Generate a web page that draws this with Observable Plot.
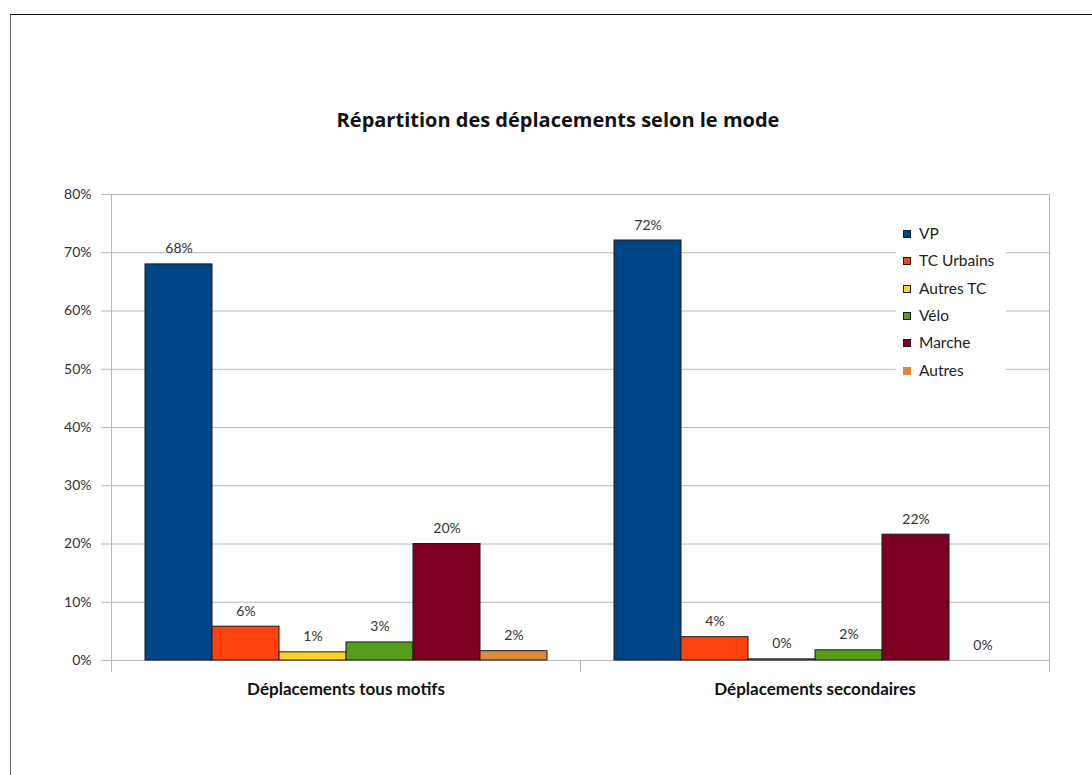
<!DOCTYPE html>
<html>
<head>
<meta charset="utf-8">
<script src="https://cdn.jsdelivr.net/npm/d3@7"></script>
<script src="https://cdn.jsdelivr.net/npm/@observablehq/plot@0.6"></script>
<style>
  html, body { margin: 0; padding: 0; background: #fff; }
  #wrap { position: relative; width: 1092px; height: 775px; overflow: hidden; font-family: Lato, "Open Sans", sans-serif; }
  #border { position: absolute; left: 10px; top: 14px; width: 1200px; height: 900px;
            border-top: 1.5px solid #111; border-left: 1.5px solid #666; box-sizing: border-box; }
  #title { position: absolute; left: 0; width: 1116px; top: 106px; text-align: center;
           font-family: "Open Sans", Lato, sans-serif; font-weight: bold; font-size: 20px; line-height: 28px; color: #111; }
  #chart { position: absolute; left: 0; top: 150px; }
  #legend { position: absolute; left: 896px; top: 216px; width: 110px; height: 172px; background: #fff; }
  .item { position: absolute; left: 7px; font-size: 15.5px; color: #222; white-space: nowrap; line-height: 18px; }
  .sw { display: inline-block; width: 8px; height: 8px; box-sizing: border-box; margin-right: 8px; vertical-align: 1px; }
</style>
</head>
<body>
<div id="wrap">
  <div id="border"></div>
  <div id="title">Répartition des déplacements selon le mode</div>
  <div id="chart"></div>
  <div id="legend"></div>
</div>
<script>
const groups = ["Déplacements tous motifs", "Déplacements secondaires"];
const modes = ["VP", "TC Urbains", "Autres TC", "Vélo", "Marche", "Autres"];
const colors = ["#004586", "#ff420e", "#ffd320", "#579d1c", "#7e0021", "#dd8a3e"];
const valuesTousMotifs = [0.680, 0.058, 0.014, 0.031, 0.200, 0.016];
const valuesSecondaires = [0.721, 0.040, 0.002, 0.0175, 0.216, 0];
const yTicks = [0, 0.1, 0.2, 0.3, 0.4, 0.5, 0.6, 0.7, 0.8];

const data = [];
modes.forEach((m, i) => data.push({group: groups[0], mode: m, value: valuesTousMotifs[i]}));
modes.forEach((m, i) => data.push({group: groups[1], mode: m, value: valuesSecondaires[i]}));

const pct = d => Math.round(d * 100) + "%";
const gridColor = "#b8b8b8";

const chart = Plot.plot({
  width: 1092,
  height: 560,
  marginTop: 44,
  marginBottom: 50,
  marginLeft: 110,
  marginRight: 43,
  style: {fontFamily: "Lato, 'Open Sans', sans-serif", fontSize: "14px", color: "#333", background: "transparent"},
  fx: {domain: groups, padding: 0, label: null},
  x: {domain: modes, paddingInner: 0, paddingOuter: 0.5, axis: null},
  y: {domain: [0, 0.8], label: null},
  color: {domain: modes, range: colors},
  marks: [
    Plot.gridY(yTicks, {stroke: gridColor, strokeOpacity: 1}),
    Plot.frame({anchor: "left", fx: groups[0], stroke: gridColor, insetBottom: -11}),
    Plot.frame({anchor: "left", fx: groups[1], stroke: gridColor, insetTop: 466, insetBottom: -11}),
    Plot.frame({anchor: "right", fx: groups[1], stroke: gridColor, insetBottom: -11}),
    Plot.axisY(yTicks, {tickSize: 10, tickPadding: 10, stroke: gridColor, fill: "#333", fontSize: 14, tickFormat: pct, label: null}),
    Plot.axisFx({anchor: "bottom", tickSize: 0, tickPadding: 22, fontSize: 17, fontWeight: "bold", fill: "#111", label: null}),
    Plot.barY(data, {fx: "group", x: "mode", y: "value", fill: "mode", stroke: "#1a1a1a", strokeWidth: 1}),
    Plot.text(data, {fx: "group", x: "mode", y: "value", text: d => pct(d.value), dy: -11, lineAnchor: "bottom", fill: "#333", fontSize: 14})
  ]
});
document.getElementById("chart").appendChild(chart);

const legend = document.getElementById("legend");
modes.forEach((m, i) => {
  const it = document.createElement("div");
  it.className = "item";
  it.style.top = (8 + i * 27.3) + "px";
  const sw = document.createElement("span");
  sw.className = "sw";
  sw.style.background = colors[i];
  sw.style.border = i === modes.length - 1 ? "none" : "1px solid #1a1a1a";
  it.appendChild(sw);
  it.appendChild(document.createTextNode(m));
  legend.appendChild(it);
});
</script>
</body>
</html>
